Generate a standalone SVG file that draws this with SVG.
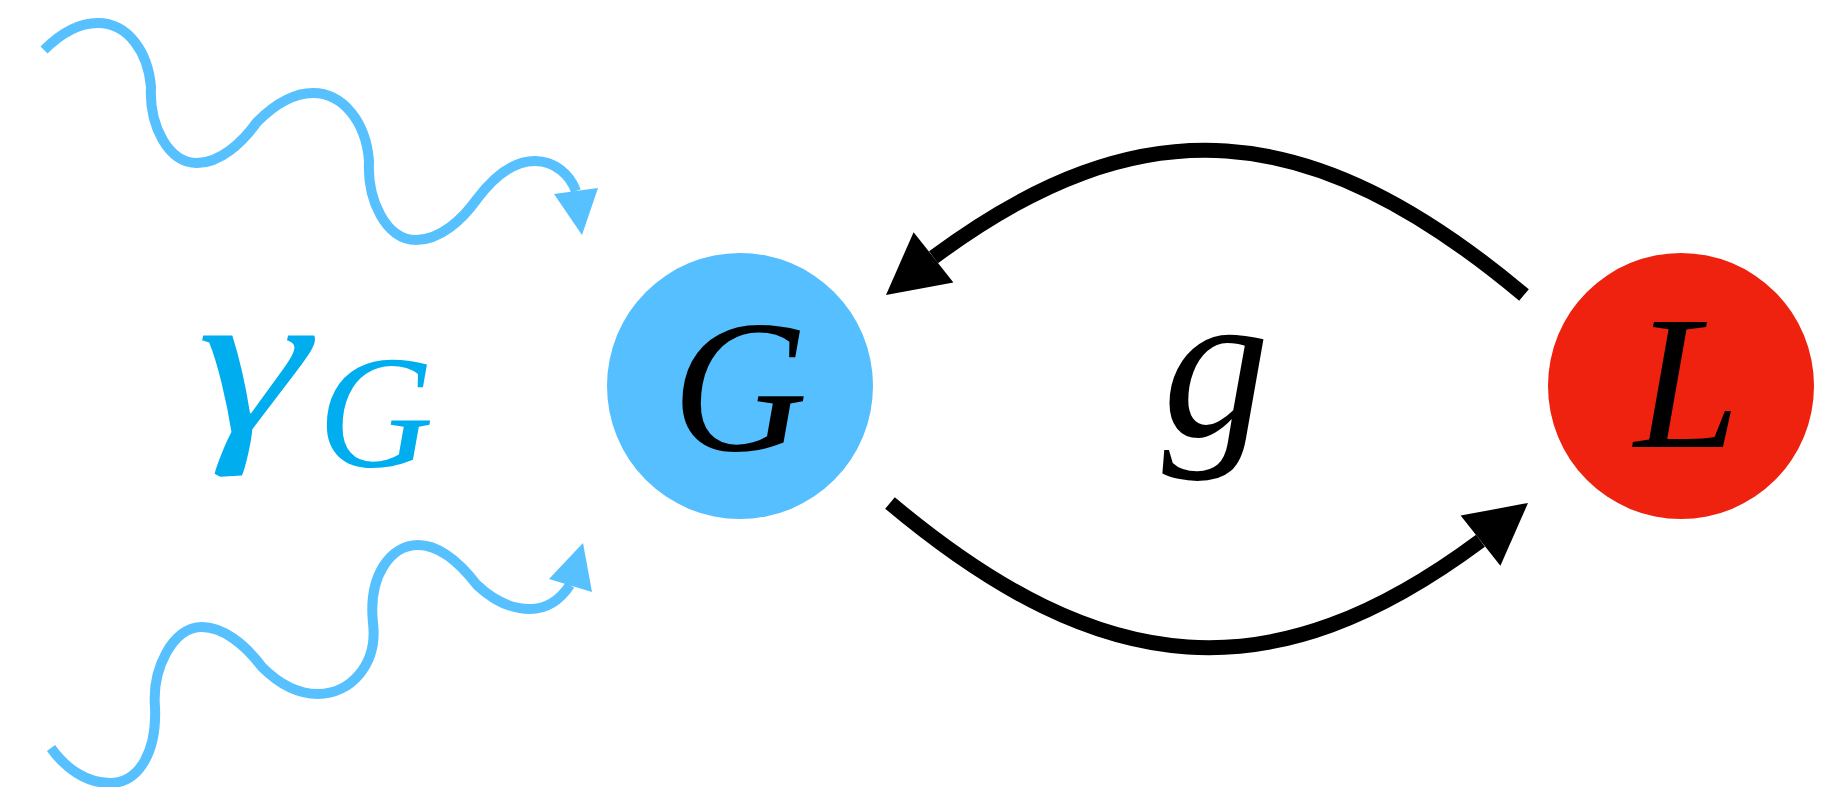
<svg xmlns="http://www.w3.org/2000/svg" width="1845" height="787" viewBox="0 0 1845 787">
  <style>
    .math { font-family: "Liberation Serif", serif; font-style: italic; }
    .wave { fill: none; stroke: #57C0FF; stroke-width: 10; stroke-linejoin: round; }
    .wavehead { fill: #57C0FF; }
    .arc { fill: none; stroke: #000; stroke-width: 15; }
    .archead { fill: #000; }
  </style>
  <rect width="1845" height="787" fill="#fff"/>
  <g id="connectors">
    <g id="wave-top">
      <path class="wave" d="M44,50 C60,34 78,23 98,23 C128,23 148,52 151,87 C149,125 168,163 197,163 C220,163 242,143 257,122 C275,104 295,93 313,93 C343,93 366,122 369,161 C367,200 386,240 416,240 C440,240 462,220 477,199 C495,175 515,161 535,161 C555,161 570,175 576,191"/>
      <polygon class="wavehead" points="554,194 598,188 582,235"/>
    </g>
    <g id="wave-bottom">
      <path class="wave" d="M51,748 C66,769 87,783 110,783 C140,783 157,750 155,707 C152,670 172,627 202,627 C222,627 244,643 262,667 C280,685 300,694 318,694 C350,694 378,665 373,623 C368,575 391,545 418,545 C440,545 460,563 477,585 C494,601 512,609 530,609 C546,609 560,600 570,585"/>
      <polygon class="wavehead" points="549,579 583,543 592,592"/>
    </g>
    <g id="arc-L-to-G">
      <path class="arc" d="M1524,295 C1310,115.5 1141,103 933.5,257.3"/>
      <polygon class="archead" points="886,295 953.4,282.4 913.6,232.2"/>
    </g>
    <g id="arc-G-to-L" transform="rotate(180 1207 399)">
      <path class="arc" d="M1524,295 C1310,115.5 1141,103 933.5,257.3"/>
      <polygon class="archead" points="886,295 953.4,282.4 913.6,232.2"/>
    </g>
  </g>
  <g id="label-gammaG" fill="#00AEEF">
    <text class="math" transform="translate(197 432) scale(1.35 1)" font-size="210">γ</text>
    <text class="math" x="318" y="467" font-size="160">G</text>
  </g>
  <g id="node-G">
    <circle cx="740" cy="386" r="133" fill="#56BFFF"/>
    <text class="math" x="740" y="450" font-size="188" text-anchor="middle" fill="#000">G</text>
  </g>
  <g id="label-g">
    <text class="math" x="1216" y="435" font-size="215" text-anchor="middle" fill="#000">g</text>
  </g>
  <g id="node-L">
    <circle cx="1681" cy="386" r="133" fill="#EE220F"/>
    <text class="math" x="1687" y="447" font-size="190" text-anchor="middle" fill="#000">L</text>
  </g>
</svg>
